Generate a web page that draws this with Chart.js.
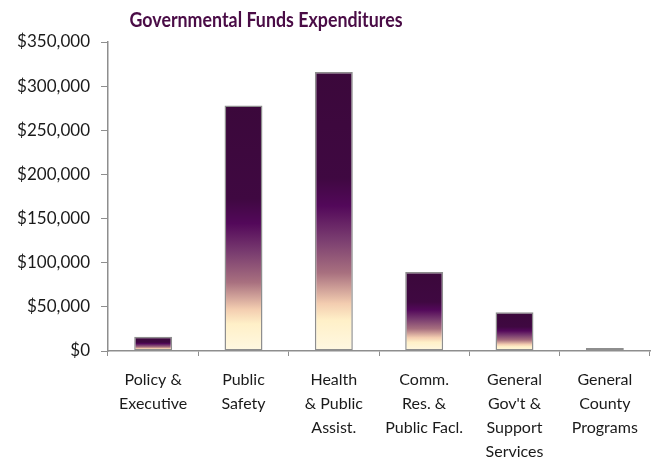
<!DOCTYPE html>
<html>
<head>
<meta charset="utf-8">
<script src="https://cdn.jsdelivr.net/npm/chart.js@4"></script>
<style>
html,body{margin:0;padding:0;background:#fff;}
#wrap{width:652px;height:461px;position:relative;}
</style>
</head>
<body>
<div id="wrap"><canvas id="c" width="652" height="461"></canvas></div>
<script>
const categories = [
  ["Policy &", "Executive"],
  ["Public", "Safety"],
  ["Health", "& Public", "Assist."],
  ["Comm.", "Res. &", "Public Facl."],
  ["General", "Gov't &", "Support", "Services"],
  ["General", "County", "Programs"]
];
const expenditures = [16000, 278000, 316000, 89500, 44000, 3500];
const titleText = "Governmental Funds Expenditures";

const FONT = "Lato, 'Liberation Sans', sans-serif";

function barGradient(ctx) {
  const chart = ctx.chart;
  if (!chart.chartArea || ctx.raw === undefined) return '#3d0a3c';
  const y = chart.scales.y;
  const top = y.getPixelForValue(ctx.raw);
  const bottom = y.getPixelForValue(0);
  const g = chart.ctx.createLinearGradient(0, top, 0, bottom);
  g.addColorStop(0.00, '#3b083b');
  g.addColorStop(0.38, '#3f0841');
  g.addColorStop(0.48, '#53085a');
  g.addColorStop(0.60, '#7a3d70');
  g.addColorStop(0.72, '#a8707f');
  g.addColorStop(0.83, '#f3cdb0');
  g.addColorStop(0.89, '#fff0c8');
  g.addColorStop(1.00, '#fff8e2');
  return g;
}

const titlePlugin = {
  id: 'customTitle',
  afterDraw(chart) {
    const c = chart.ctx;
    c.save();
    c.font = "bold 20px " + FONT;
    c.fillStyle = '#4a0c46';
    c.textAlign = 'center';
    c.textBaseline = 'middle';
    const w = c.measureText(titleText).width;
    const sx = Math.min(1, 273 / w);
    c.translate(266, 21);
    c.scale(sx, 1);
    c.fillText(titleText, 0, 0);
    c.restore();
  }
};

new Chart(document.getElementById('c'), {
  type: 'bar',
  data: {
    labels: categories,
    datasets: [{
      data: expenditures,
      backgroundColor: barGradient,
      borderColor: '#8e8e8e',
      borderWidth: 1.5,
      borderSkipped: false,
      barPercentage: 0.42,
      categoryPercentage: 1.0
    }]
  },
  options: {
    responsive: false,
    animation: false,
    events: [],
    layout: { padding: { top: 42, right: 2, left: 0, bottom: 0 } },
    plugins: { legend: { display: false }, title: { display: false }, tooltip: { enabled: false } },
    scales: {
      x: {
        grid: { display: true, drawOnChartArea: false, drawTicks: true, tickLength: 5, color: '#8e8e8e', offset: true },
        border: { display: true, color: '#8e8e8e', width: 1.5 },
        ticks: { color: '#1a1a1a', font: { family: FONT, size: 16, lineHeight: 1.5 }, maxRotation: 0, autoSkip: false, padding: 12 },
        afterFit(s) { s.height = 110; }
      },
      y: {
        min: 0, max: 350000,
        grid: { display: true, drawOnChartArea: false, drawTicks: true, tickLength: 7, color: '#8e8e8e' },
        border: { display: true, color: '#8e8e8e', width: 1.5 },
        ticks: {
          stepSize: 50000,
          color: '#1a1a1a',
          font: { family: FONT, size: 17 },
          padding: 11,
          callback: v => '$' + v.toLocaleString('en-US')
        },
        afterFit(s) { s.width = 108; }
      }
    }
  },
  plugins: [titlePlugin]
});
</script>
</body>
</html>
